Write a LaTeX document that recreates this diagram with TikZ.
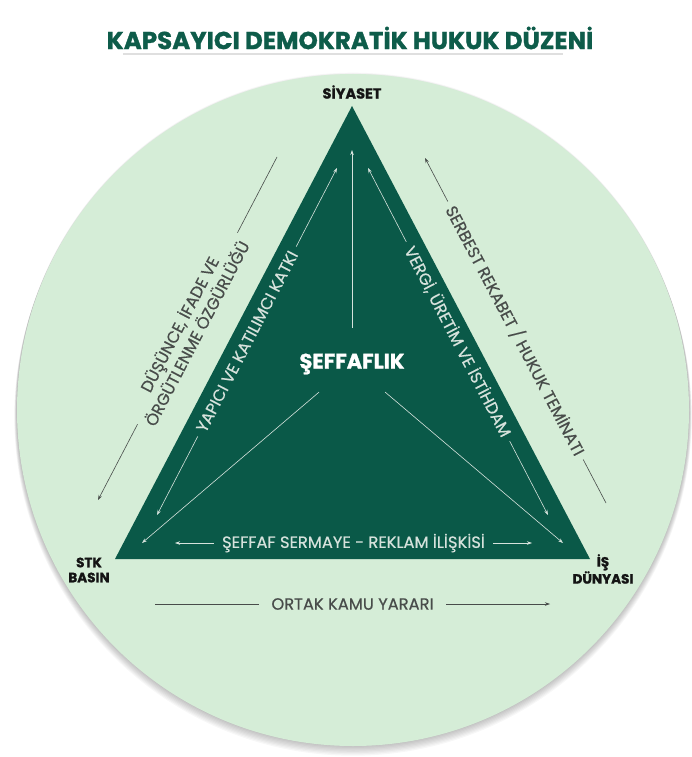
\documentclass[tikz,border=0pt]{standalone}
\usepackage{fontspec}
\setmainfont{Poppins}
\newfontfamily\titlefont{Poppins}[BoldFeatures={FakeBold=1.2}]
\newfontfamily\sidefont{Poppins}[FakeBold=0.5]
\usetikzlibrary{arrows.meta,positioning}

\begin{document}
\begin{tikzpicture}[x=1pt,y=-1pt,
  corner/.style={text=labelColor,font=\titlefont\bfseries\fontsize{13.5}{15}\selectfont,align=center,inner sep=0pt},
  inlabel/.style={fill=triangleColor,text=innerColor,font=\sidefont\fontsize{16.3}{17}\selectfont,inner xsep=6pt,inner ysep=2pt,sloped},
  outlabel/.style={fill=circleColor,text=outerColor,font=\sidefont\fontsize{16.3}{16.5}\selectfont,inner xsep=6pt,inner ysep=2pt,sloped,align=center},
  spoke/.style={draw=innerColor,line width=0.6pt,-{Stealth[length=5pt,width=3.5pt]}},
  twoway/.style={spoke,{Stealth[length=5pt,width=3.5pt]}-{Stealth[length=5pt,width=3.5pt]}},
  flow/.style={draw=outerColor,line width=0.6pt,-{Stealth[length=5pt,width=3.5pt]}}]
\definecolor{circleColor}{RGB}{213,237,215}
\definecolor{triangleColor}{RGB}{10,89,72}
\definecolor{titleColor}{RGB}{14,92,74}
\definecolor{innerColor}{RGB}{214,226,220}
\definecolor{outerColor}{RGB}{72,76,74}
\definecolor{labelColor}{RGB}{20,20,20}
\path[use as bounding box,fill=white] (0,0) rectangle (691,757);

% title card
\draw[gray!25,line width=1.2pt] (123,54) -- (563,54);
\node[text=titleColor,font=\titlefont\bfseries\fontsize{24.5}{28}\selectfont,inner sep=0pt] (title) at (350,38) {KAPSAYICI DEMOKRATİK HUKUK DÜZENİ};

% circle with soft shadow
\foreach \k in {1,...,9}
  \fill[black,opacity=0.03] (353,408+\k) circle[radius=336+0.3*\k];
\fill[circleColor] (353,410) circle[radius=336];

% triangle
\coordinate (top) at (352,106);
\coordinate (left) at (115,559);
\coordinate (right) at (590,559);
\fill[triangleColor] (top) -- (left) -- (right) -- cycle;

% corner labels
\node[corner,font=\titlefont\bfseries\fontsize{14.5}{17}\selectfont] (siyaset) at (352,92) {SİYASET};
\node[corner] (stk) at (89,570) {STK\\BASIN};
\node[corner] (dunya) at (603,569) {İŞ\\DÜNYASI};

% centre
\node[text=white,font=\titlefont\bfseries\fontsize{21}{24}\selectfont] (seffaf) at (352,364) {ŞEFFAFLIK};
\coordinate (c-top) at (352,150);
\coordinate (c-left) at (142,543);
\coordinate (c-right) at (563,543);
\draw[spoke,shorten <=22pt] (seffaf) -- (c-top);
\draw[spoke,shorten <=22pt] (seffaf) -- (c-left);
\draw[spoke,shorten <=22pt] (seffaf) -- (c-right);

% inner sides
\coordinate (il-a) at (157,515);
\coordinate (il-b) at (337,168);
\coordinate (ir-a) at (368,168);
\coordinate (ir-b) at (548,515);
\coordinate (ib-a) at (175,543);
\coordinate (ib-b) at (532,543);
\draw[twoway] (il-a) -- node[inlabel] {YAPICI VE KATILIMCI KATKI} (il-b);
\draw[twoway] (ir-a) -- node[inlabel] {VERGİ, ÜRETİM VE İSTİHDAM} (ir-b);
\draw[twoway] (ib-a) -- node[inlabel,inner xsep=8pt] {ŞEFFAF SERMAYE - REKLAM İLİŞKİSİ} (ib-b);

% outer sides
\coordinate (ol-a) at (277,157);
\coordinate (ol-b) at (98,500);
\coordinate (or-a) at (606,503);
\coordinate (or-b) at (425,158);
\coordinate (ob-a) at (155,604);
\coordinate (ob-b) at (550,604);
\draw[flow] (ol-a) -- node[outlabel,inner xsep=5pt] {DÜŞÜNCE, İFADE VE\\ÖRGÜTLENME ÖZGÜRLÜĞÜ} (ol-b);
\draw[flow] (or-a) -- node[outlabel] {SERBEST REKABET / HUKUK TEMİNATI} (or-b);
\draw[flow] (ob-a) -- node[outlabel,inner xsep=12pt] {ORTAK KAMU YARARI} (ob-b);
\end{tikzpicture}
\end{document}
